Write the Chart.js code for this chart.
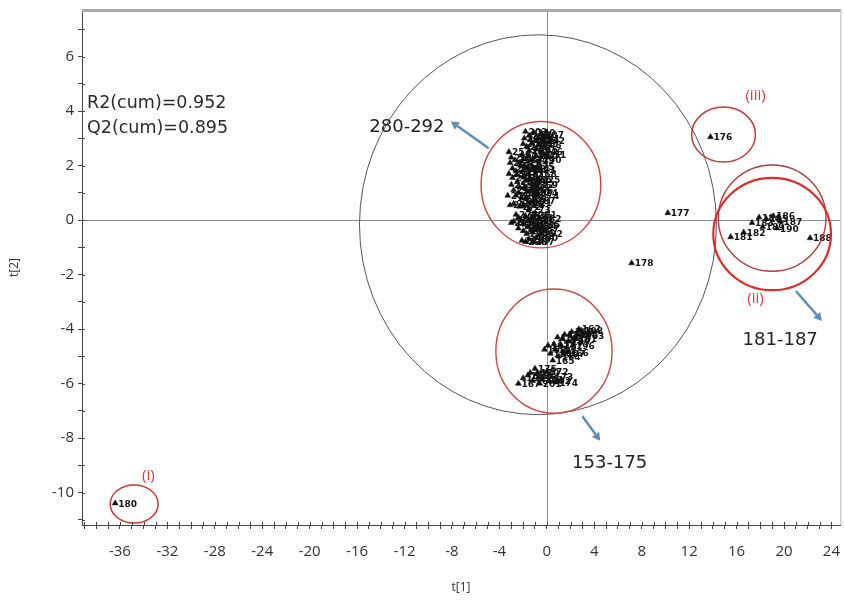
<!DOCTYPE html>
<html>
<head>
<meta charset="utf-8">
<script src="https://cdn.jsdelivr.net/npm/chart.js@4.4.1/dist/chart.umd.min.js"></script>
<style>
  html, body { margin: 0; padding: 0; background: #fff; }
  #wrap { width: 844px; height: 600px; }
</style>
</head>
<body>
<div id="wrap"><canvas id="c" width="844" height="600"></canvas></div>
<script>
// PCA score plot, t[1] vs t[2]

const xTickLabels = [-36, -32, -28, -24, -20, -16, -12, -8, -4, 0, 4, 8, 12, 16, 20, 24];
const yTickLabels = [6, 4, 2, 0, -2, -4, -6, -8, -10];

// Group 280-292 (upper-left cluster)
const groupA_t1 = [-1.9, -1.5, -1.1, -0.7, -0.3, -1.7, -1.3, -0.9, -0.5, -2.1, -1.6, -1.2, -0.6, -0.2,
  -3.2, -3.1, -3.2, -3.0, -2.7, -2.6, -2.5, -2.4, -2.2, -2.0, -1.9, -1.8, -1.6, -1.4, -1.3, -1.1, -1.0, -0.9, -2.8, -3.3, -2.3, -1.5, -0.8, -1.2, -2.9,
  -2.6, -2.2, -1.8, -1.4, -1.0, -0.6, -2.4, -2.0, -1.6, -1.2, -0.8, -2.1, -1.5, -0.9, -3.0, -0.5,
  -1.8, -1.4, -1.0, -0.6, -0.4, -2.0, -1.5, -0.9,
  -3.0, -2.9, -2.8, -2.5, -2.3, -2.3, -2.1, -1.9, -1.7, -1.6, -1.4, -1.2, -1.1, -0.9, -0.7, -2.6, -3.1, -2.0,
  -2.8, -2.4, -2.0, -1.7, -1.3, -1.0, -0.7, -1.8, -1.2];
const groupA_t2 = [3.0, 3.1, 3.2, 3.0, 2.9, 2.7, 2.8, 2.6, 2.5, 2.4, 2.35, 2.2, 2.2, 2.4,
  2.5, 2.1, 1.7, 1.3, 2.2, 1.8, 1.4, 1.0, 2.0, 1.6, 1.2, 0.8, 1.9, 1.5, 1.1, 0.7, 1.7, 1.3, 0.6, 0.9, 0.5, 0.4, 0.9, 1.95, 1.55,
  0.2, 0.0, 0.15, -0.05, 0.2, 0.05, -0.3, -0.4, -0.25, -0.45, -0.3, -0.75, -0.7, -0.65, -0.1, -0.5,
  3.25, 2.95, 2.9, 2.75, 3.15, 2.8, 2.55, 2.35,
  2.3, 1.9, 1.1, 1.65, 2.1, 1.2, 0.8, 1.9, 1.45, 1.05, 0.65, 1.3, 1.85, 1.0, 1.5, 0.9, 0.55, 0.55,
  -0.05, 0.1, -0.15, -0.5, 0.1, -0.2, -0.15, -0.8, -0.8];
const groupA_ids = [238, 239, 240, 241, 242, 243, 244, 245, 246, 247, 248, 249, 250, 251,
  252, 253, 254, 255, 256, 257, 258, 259, 260, 261, 262, 263, 264, 265, 266, 267, 268, 269, 270, 271, 272, 273, 274, 275, 276,
  277, 278, 279, 280, 281, 282, 283, 284, 285, 286, 287, 288, 289, 290, 291, 292,
  203, 204, 205, 206, 207, 208, 209, 210,
  211, 212, 213, 214, 215, 216, 217, 218, 219, 220, 221, 222, 223, 224, 225, 226, 227, 228,
  229, 230, 231, 232, 233, 234, 235, 236, 237];

// Group 153-175 (lower cluster)
const groupB_t1 = [-0.2, 0.3, 0.6, 0.9, 1.2, 1.5, 1.8, 2.1, 2.4, 2.7, 3.0, 1.0, 0.5, 1.7,
  -2.4, -1.6, -1.2, -0.8, -0.4, 0.0, 0.4, 0.8, -1.0,
  0.1, 0.7, 1.3, 1.9, 2.5, 2.2, 1.4, 2.9, -2.0, -1.4, -0.6, 0.2];
const groupB_t2 = [-4.75, -4.9, -4.55, -4.3, -4.6, -4.2, -4.45, -4.1, -4.35, -4.0, -4.25, -5.0, -5.15, -4.85,
  -6.0, -5.7, -5.9, -5.6, -5.85, -5.55, -5.75, -5.95, -5.45,
  -4.6, -4.75, -4.35, -4.2, -4.2, -4.6, -4.9, -4.05, -5.8, -5.6, -6.0, -5.9];
const groupB_ids = [153, 154, 155, 156, 157, 158, 159, 160, 161, 162, 163, 164, 165, 166,
  167, 168, 169, 170, 171, 172, 173, 174, 175,
  191, 192, 193, 194, 195, 196, 197, 198, 199, 200, 201, 202];

// Group 181-187 (right cluster)
const groupC_t1 = [15.5, 16.6, 17.3, 17.9, 18.5, 19.1, 19.7, 18.2, 19.4];
const groupC_t2 = [-0.62, -0.45, -0.1, 0.1, 0.05, 0.15, -0.05, -0.25, -0.3];
const groupC_ids = [181, 182, 183, 184, 185, 186, 187, 189, 190];

// Isolated samples
const single_t1 = [13.8, 10.2, 7.15, 22.2, -36.4];
const single_t2 = [3.05, 0.26, -1.58, -0.66, -10.39];
const single_ids = [176, 177, 178, 188, 180];

const toPoints = (xs, ys) => xs.map((v, i) => ({ x: v, y: ys[i] }));

// Hotelling T2 ellipse (centre, semi-axes in score units)
const t2Ellipse = { cx: -0.75, cy: -0.17, rx: 15.05, ry: 6.97 };

// Red rings marking groups
const rings = [
  { cx: -0.5, cy: 1.3, rx: 5.05, ry: 2.32, color: '#cf4545', w: 1.4 },
  { cx: 0.6, cy: -4.81, rx: 4.9, ry: 2.28, color: '#c94848', w: 1.4 },
  { cx: 14.9, cy: 3.14, rx: 2.69, ry: 1.01, color: '#c63a3a', w: 1.5 },
  { cx: 19.0, cy: 0.07, rx: 4.54, ry: 1.95, color: '#b23a3a', w: 1.4 },
  { cx: 19.0, cy: -0.51, rx: 4.96, ry: 2.06, color: '#e02a2a', w: 2.2 },
  { cx: -34.8, cy: -10.42, rx: 2.02, ry: 0.7, color: '#d63030', w: 1.5 }
];

const ringTags = [
  { text: '(i)', x: -33.6, y: -9.4 },
  { text: '(ii)', x: 17.6, y: -2.87 },
  { text: '(iii)', x: 17.6, y: 4.55 }
];

const rangeTags = [
  { text: '280-292', x: -11.8, y: 3.41 },
  { text: '153-175', x: 5.3, y: -8.92 },
  { text: '181-187', x: 19.68, y: -4.42 }
];

const pointers = [
  { from: [-4.9, 2.64], to: [-8.1, 3.62] },
  { from: [3.0, -7.2], to: [4.5, -8.1] },
  { from: [21.0, -2.6], to: [23.2, -3.7] }
];

const fitStats = ['R2(cum)=0.952', 'Q2(cum)=0.895'];

const xRange = [-39.2, 24.73];
const yRange = [-11.19, 7.71];

function integerTicks(min, max) {
  const out = [];
  for (let v = Math.ceil(min); v <= Math.floor(max); v++) out.push({ value: v });
  return out;
}

const scoreOverlay = {
  id: 'scoreOverlay',
  beforeDatasetsDraw(chart) {
    const { ctx, chartArea: a, scales: { x, y } } = chart;
    ctx.save();
    ctx.beginPath();
    ctx.rect(a.left, a.top, a.right - a.left, a.bottom - a.top);
    ctx.clip();
    // zero lines
    ctx.strokeStyle = '#8c8c8c';
    ctx.lineWidth = 1;
    const x0 = Math.round(x.getPixelForValue(0)) + 0.5;
    const y0 = Math.round(y.getPixelForValue(0)) + 0.5;
    ctx.beginPath();
    ctx.moveTo(a.left, y0); ctx.lineTo(a.right, y0);
    ctx.moveTo(x0, a.top); ctx.lineTo(x0, a.bottom);
    ctx.stroke();
    // T2 ellipse
    const sx = Math.abs(x.getPixelForValue(1) - x.getPixelForValue(0));
    const sy = Math.abs(y.getPixelForValue(1) - y.getPixelForValue(0));
    ctx.strokeStyle = '#555';
    ctx.lineWidth = 1;
    ctx.beginPath();
    ctx.ellipse(x.getPixelForValue(t2Ellipse.cx), y.getPixelForValue(t2Ellipse.cy),
      t2Ellipse.rx * sx, t2Ellipse.ry * sy, 0, 0, Math.PI * 2);
    ctx.stroke();
    ctx.restore();
  },
  afterDatasetsDraw(chart) {
    const { ctx, chartArea: a, scales: { x, y } } = chart;
    const sx = Math.abs(x.getPixelForValue(1) - x.getPixelForValue(0));
    const sy = Math.abs(y.getPixelForValue(1) - y.getPixelForValue(0));
    ctx.save();
    ctx.beginPath();
    ctx.rect(a.left, a.top, a.right - a.left + 2, a.bottom - a.top);
    ctx.clip();

    // sample numbers beside each marker
    ctx.fillStyle = '#111';
    ctx.font = 'bold 9px "DejaVu Sans"';
    ctx.textBaseline = 'middle';
    ctx.textAlign = 'left';
    chart.data.datasets.forEach((ds, di) => {
      const meta = chart.getDatasetMeta(di);
      meta.data.forEach((el, i) => {
        ctx.fillText(String(ds.ids[i]), el.x + 3, el.y + 1);
      });
    });

    // group rings
    rings.forEach(r => {
      ctx.strokeStyle = r.color;
      ctx.lineWidth = r.w;
      ctx.beginPath();
      ctx.ellipse(x.getPixelForValue(r.cx), y.getPixelForValue(r.cy), r.rx * sx, r.ry * sy, 0, 0, Math.PI * 2);
      ctx.stroke();
    });

    // ring tags
    ctx.fillStyle = '#e03a3a';
    ctx.font = '15px "Open Sans"';
    ctx.textAlign = 'center';
    ringTags.forEach(t => ctx.fillText(t.text, x.getPixelForValue(t.x), y.getPixelForValue(t.y)));

    // pointers
    ctx.strokeStyle = '#5d8bba';
    ctx.fillStyle = '#5d8bba';
    ctx.lineWidth = 2.4;
    pointers.forEach(p => {
      const x1 = x.getPixelForValue(p.from[0]), y1 = y.getPixelForValue(p.from[1]);
      const x2 = x.getPixelForValue(p.to[0]), y2 = y.getPixelForValue(p.to[1]);
      const ang = Math.atan2(y2 - y1, x2 - x1);
      const hl = 8, hw = 4.5;
      const bx = x2 - hl * Math.cos(ang), by = y2 - hl * Math.sin(ang);
      ctx.beginPath();
      ctx.moveTo(x1, y1); ctx.lineTo(bx, by);
      ctx.stroke();
      ctx.beginPath();
      ctx.moveTo(x2, y2);
      ctx.lineTo(bx + hw * Math.sin(ang), by - hw * Math.cos(ang));
      ctx.lineTo(bx - hw * Math.sin(ang), by + hw * Math.cos(ang));
      ctx.closePath();
      ctx.fill();
    });

    // range tags
    ctx.fillStyle = '#222';
    ctx.font = '18px "DejaVu Sans"';
    rangeTags.forEach(t => ctx.fillText(t.text, x.getPixelForValue(t.x), y.getPixelForValue(t.y)));

    // fit statistics
    ctx.textAlign = 'left';
    ctx.font = '17.5px "DejaVu Sans"';
    ctx.fillStyle = '#2a2a2a';
    fitStats.forEach((s, i) => ctx.fillText(s, a.left + 5, 103 + i * 25));
    ctx.restore();

    // frame: heavy top rule, light right rule
    ctx.save();
    ctx.fillStyle = '#aaaaaa';
    ctx.fillRect(a.left, a.top - 1, a.right - a.left + 1, 3);
    ctx.fillStyle = '#cccccc';
    ctx.fillRect(a.right, a.top, 1.5, a.bottom - a.top);
    // tick marks also reach inside the axes
    ctx.strokeStyle = '#444';
    ctx.lineWidth = 1;
    ctx.beginPath();
    x.ticks.forEach(t => {
      const px = Math.round(x.getPixelForValue(t.value)) + 0.5;
      ctx.moveTo(px, a.bottom); ctx.lineTo(px, a.bottom - 3);
    });
    y.ticks.forEach(t => {
      const py = Math.round(y.getPixelForValue(t.value)) + 0.5;
      ctx.moveTo(a.left, py); ctx.lineTo(a.left + 3, py);
    });
    ctx.stroke();
    ctx.restore();
  }
};

const marker = {
  pointStyle: 'triangle',
  pointRadius: 3.4,
  pointHoverRadius: 3.4,
  backgroundColor: '#111',
  borderColor: '#111',
  borderWidth: 0.5
};

new Chart(document.getElementById('c'), {
  type: 'scatter',
  data: {
    datasets: [
      Object.assign({ label: '280-292', data: toPoints(groupA_t1, groupA_t2), ids: groupA_ids }, marker),
      Object.assign({ label: '153-175', data: toPoints(groupB_t1, groupB_t2), ids: groupB_ids }, marker),
      Object.assign({ label: '181-187', data: toPoints(groupC_t1, groupC_t2), ids: groupC_ids }, marker),
      Object.assign({ label: 'other', data: toPoints(single_t1, single_t2), ids: single_ids }, marker)
    ]
  },
  options: {
    responsive: false,
    animation: false,
    layout: { padding: { top: 10, right: 2, left: 0, bottom: 0 } },
    plugins: { legend: { display: false }, tooltip: { enabled: false } },
    scales: {
      x: {
        type: 'linear',
        min: xRange[0], max: xRange[1],
        afterBuildTicks: s => { s.ticks = integerTicks(xRange[0], xRange[1]); },
        afterFit: s => { s.height = 75; s.paddingLeft = 0; s.paddingRight = 0; },
        grid: { drawOnChartArea: false, drawTicks: true, tickLength: 4, color: '#444' },
        border: { display: true, color: '#444', width: 1 },
        ticks: {
          autoSkip: false, maxRotation: 0, padding: 14,
          color: '#333', font: { family: 'Open Sans', size: 15 },
          callback: v => (xTickLabels.includes(v) ? String(v) : '')
        },
        title: { display: true, text: 't[1]', color: '#333', font: { family: 'Open Sans', size: 12 }, padding: { top: 0, bottom: 5 } }
      },
      y: {
        type: 'linear',
        min: yRange[0], max: yRange[1],
        afterBuildTicks: s => { s.ticks = integerTicks(yRange[0], yRange[1]); },
        afterFit: s => { s.width = 82; s.paddingTop = 0; s.paddingBottom = 0; },
        grid: { drawOnChartArea: false, drawTicks: true, tickLength: 4, color: '#444' },
        border: { display: true, color: '#444', width: 1 },
        ticks: {
          autoSkip: false, padding: 4,
          color: '#333', font: { family: 'Open Sans', size: 15 },
          callback: v => (yTickLabels.includes(v) ? String(v) : '')
        },
        title: { display: true, text: 't[2]', color: '#333', font: { family: 'Open Sans', size: 12 }, padding: { top: 7, bottom: 0 } }
      }
    }
  },
  plugins: [scoreOverlay]
});
</script>
</body>
</html>
